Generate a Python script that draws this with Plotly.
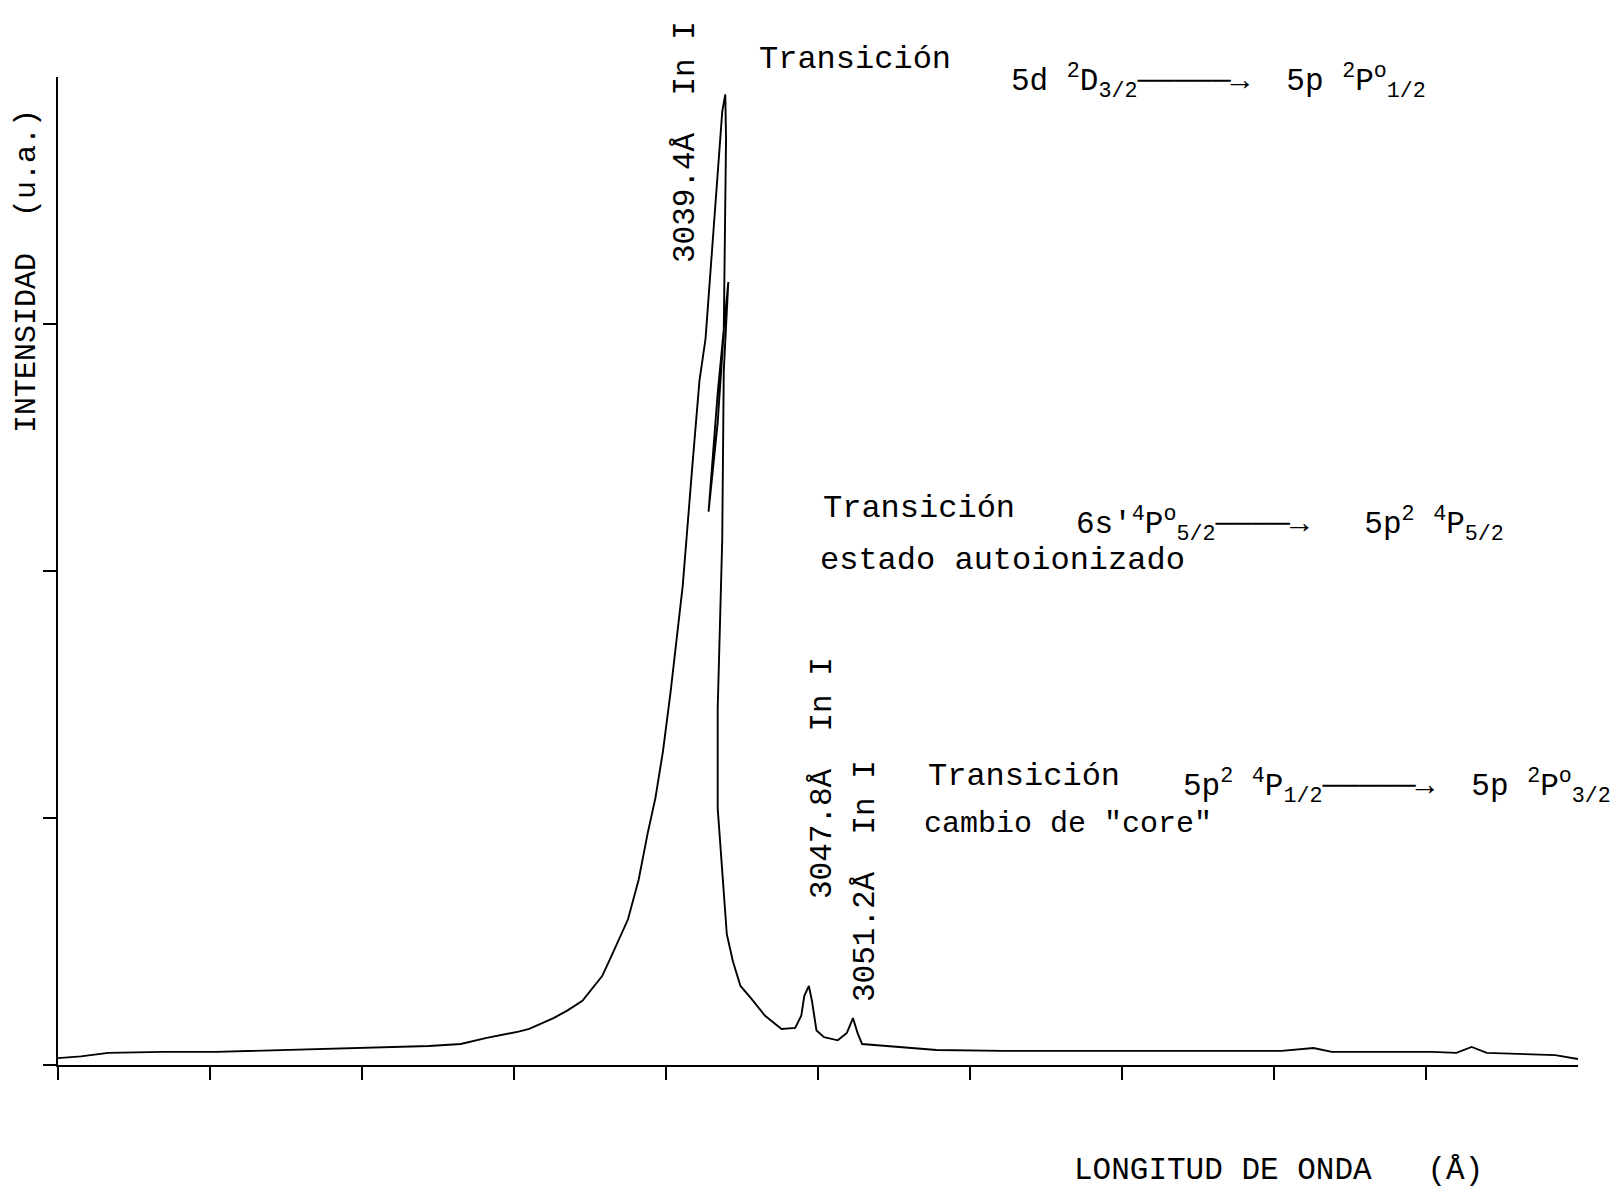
import plotly.graph_objects as go

# ---- data ----
wavelength = [3000.0, 3001.5, 3003.3, 3006.9, 3010.4, 3015.1, 3019.7, 3024.4, 3026.5, 3028.2,
              3030.3, 3031.0, 3032.6, 3033.5, 3034.5, 3035.3, 3035.8, 3036.4, 3036.9, 3037.5,
              3038.2, 3038.8, 3039.3, 3039.8, 3040.3, 3041.1, 3041.7, 3042.2, 3042.6, 3043.2,
              3043.7, 3043.9, 3043.95, 3043.8, 3043.4, 3042.8, 3043.4, 3044.1, 3043.8, 3043.7,
              3043.4, 3043.4, 3043.7, 3044.0, 3044.4, 3044.9, 3045.6, 3046.5, 3047.6, 3048.5,
              3048.9, 3049.1, 3049.4, 3049.6, 3049.9, 3050.4, 3051.3, 3051.9, 3052.3, 3052.6,
              3052.9, 3054.6, 3057.8, 3062.2, 3070.5, 3080.5, 3082.6, 3083.8, 3090.4, 3092.0,
              3093.0, 3094.0, 3098.5, 3100.0]
intensity = [0.028, 0.035, 0.049, 0.053, 0.053, 0.061, 0.069, 0.077, 0.085, 0.11,
             0.135, 0.146, 0.19, 0.22, 0.26, 0.32, 0.36, 0.44, 0.51, 0.59,
             0.75, 0.94, 1.08, 1.27, 1.51, 1.94, 2.40, 2.77, 2.94, 3.44,
             3.86, 3.93, 3.75, 2.97, 2.60, 2.24, 2.72, 3.17, 2.81, 2.13,
             1.44, 1.04, 0.77, 0.53, 0.42, 0.32, 0.27, 0.20, 0.146, 0.15,
             0.20, 0.28, 0.32, 0.26, 0.14, 0.113, 0.10, 0.13, 0.19, 0.13,
             0.085, 0.077, 0.061, 0.057, 0.057, 0.057, 0.069, 0.053, 0.053, 0.049,
             0.073, 0.049, 0.040, 0.024]

x_ticks = [3000, 3010, 3020, 3030, 3040, 3050, 3060, 3070, 3080, 3090]
y_ticks = [0, 1, 2, 3]

x_title = "LONGITUD DE ONDA   (Å)"
y_title = "INTENSIDAD  (u.a.)"
peak_labels = ["3039.4Å  In I", "3047.8Å  In I", "3051.2Å  In I"]
trans_word = "Transición"
trans1 = "5d <sup>2</sup>D<sub>3/2</sub>─────→  5p <sup>2</sup>P<sup>o</sup><sub>1/2</sub>"
trans2 = "6s'<sup>4</sup>P<sup>o</sup><sub>5/2</sub>────→   5p<sup>2</sup> <sup>4</sup>P<sub>5/2</sub>"
trans3 = "5p<sup>2</sup> <sup>4</sup>P<sub>1/2</sub>─────→  5p <sup>2</sup>P<sup>o</sup><sub>3/2</sub>"
sub2 = "estado autoionizado"
sub3 = "cambio de \"core\""

# ---- layout geometry (screen pixels; page body has an 8 px margin) ----
W, H = 1619, 1195
OFF = 8
FW, FH = W - 2 * OFF, H - 2 * OFF
SL, SR, ST, SB = 58, 1578, 77, 1065   # plot area on screen


def P(xs, ys):
    return (xs - SL) / (SR - SL), (SB - ys) / (SB - ST)


FONT = "Liberation Mono, Courier New, DejaVu Sans Mono, monospace"

fig = go.Figure()
fig.add_trace(go.Scatter(x=wavelength, y=intensity, mode="lines",
                         line=dict(color="black", width=1.9), showlegend=False,
                         hoverinfo="skip"))

ann = []


def add(text, xs, ys, size=30, angle=0, xanchor="center", yanchor="middle"):
    px_, py_ = P(xs, ys)
    ann.append(dict(text=text, x=px_, y=py_, xref="paper", yref="paper",
                    showarrow=False, textangle=angle, xanchor=xanchor, yanchor=yanchor,
                    font=dict(family=FONT, size=size, color="black")))


add(y_title, 27, 271, size=30, angle=-90)
add(x_title, 1278, 1170, size=31)
add(peak_labels[0], 685, 142, size=31, angle=-90)
add(peak_labels[1], 822, 778, size=31, angle=-90)
add(peak_labels[2], 865, 881, size=31, angle=-90)

add(trans_word, 757, 60, size=32, xanchor="left")
add(trans1, 1009, 81, size=31, xanchor="left")
add(trans_word, 821, 508, size=32, xanchor="left")
add(trans2, 1074, 524, size=31, xanchor="left")
add(sub2, 818, 560, size=32, xanchor="left")
add(trans_word, 926, 776, size=32, xanchor="left")
add(trans3, 1181, 786, size=31, xanchor="left")
add(sub3, 922, 824, size=30, xanchor="left")

axis_common = dict(showgrid=False, zeroline=False, showline=True, linecolor="black",
                   linewidth=2, ticks="outside", tickcolor="black", tickwidth=2,
                   ticklen=13, showticklabels=False)

fig.update_layout(
    width=FW, height=FH,
    margin=dict(l=SL - OFF, r=(OFF + FW) - SR, t=ST - OFF, b=(OFF + FH) - SB),
    paper_bgcolor="white", plot_bgcolor="white",
    xaxis=dict(range=[3000, 3100], tickvals=x_ticks, **axis_common),
    yaxis=dict(range=[0, 4], tickvals=y_ticks, **axis_common),
    annotations=ann,
)

fig.write_html("out.html")
